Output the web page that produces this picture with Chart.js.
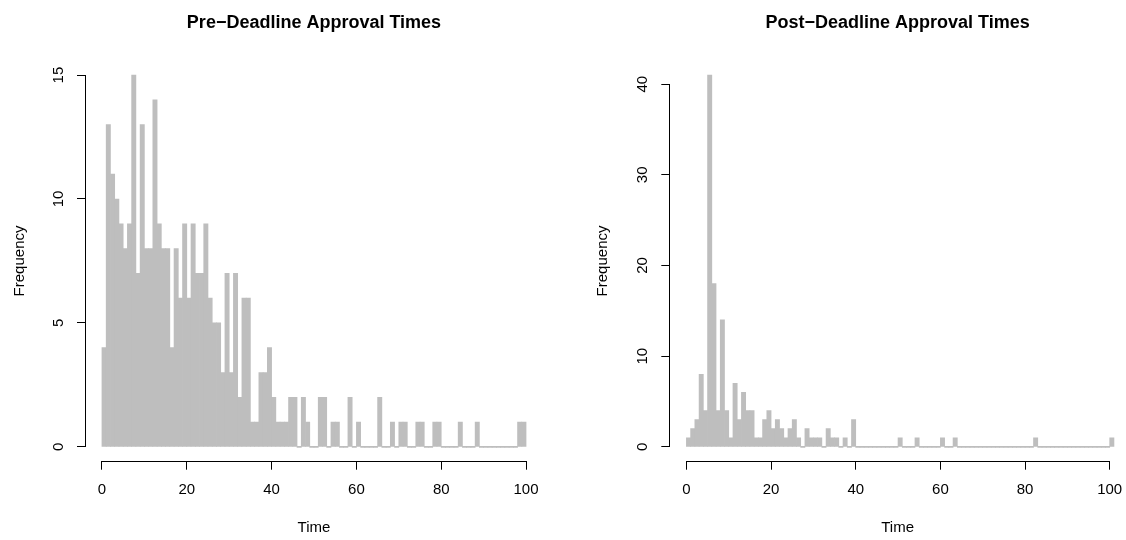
<!DOCTYPE html>
<html>
<head>
<meta charset="utf-8">
<script src="https://cdn.jsdelivr.net/npm/chart.js@4"></script>
<style>
html, body { margin: 0; padding: 0; background: #ffffff; overflow: hidden; width: 1126px; height: 540px; }
.box { position: absolute; top: 0; height: 540px; }
canvas { display: block; }
</style>
</head>
<body>
<div class="box" style="left:0px;"><canvas id="pre" width="563" height="540"></canvas></div>
<div class="box" style="left:563px;"><canvas id="post" width="583" height="540"></canvas></div>
<script>
// ---- data (histogram counts per 1-unit bin, starting at 0) ----
const binWidth = 1;
const preCounts = [
  4, 13, 11, 10, 9, 8, 9, 15, 7, 13,
  8, 8, 14, 9, 8, 8, 4, 8, 6, 9,
  6, 9, 7, 7, 9, 6, 5, 5, 3, 7,
  3, 7, 2, 6, 6, 1, 1, 3, 3, 4,
  2, 1, 1, 1, 2, 2, 0, 2, 1, 0,
  0, 2, 2, 0, 1, 1, 0, 0, 2, 0,
  1, 0, 0, 0, 0, 2, 0, 0, 1, 0,
  1, 1, 0, 0, 1, 1, 0, 0, 1, 1,
  0, 0, 0, 0, 1, 0, 0, 0, 1, 0,
  0, 0, 0, 0, 0, 0, 0, 0, 1, 1
];
const postCounts = [
  1, 2, 3, 8, 4, 41, 18, 4, 14, 4,
  1, 7, 3, 6, 4, 4, 1, 1, 3, 4,
  2, 3, 2, 1, 2, 3, 1, 0, 2, 1,
  1, 1, 0, 2, 1, 1, 0, 1, 0, 3,
  0, 0, 0, 0, 0, 0, 0, 0, 0, 0,
  1, 0, 0, 0, 1, 0, 0, 0, 0, 0,
  1, 0, 0, 1, 0, 0, 0, 0, 0, 0,
  0, 0, 0, 0, 0, 0, 0, 0, 0, 0,
  0, 0, 1, 0, 0, 0, 0, 0, 0, 0,
  0, 0, 0, 0, 0, 0, 0, 0, 0, 0,
  1
];
const xTicks = [0, 20, 40, 60, 80, 100];
const preYTicks = [0, 5, 10, 15];
const postYTicks = [0, 10, 20, 30, 40];
const preTitle = 'Pre\u2212Deadline Approval Times';
const postTitle = 'Post\u2212Deadline Approval Times';
const xLabel = 'Time';
const yLabel = 'Frequency';

// ---- style ----
const barColor = '#BEBEBE';
Chart.defaults.font.family = "'Liberation Sans', Arial, Helvetica, sans-serif";
Chart.defaults.color = '#000000';

const rAxes = {
  id: 'rAxes',
  afterDraw(chart) {
    const { ctx, chartArea, scales } = chart;
    const al = v => Math.round(v - 0.5) + 0.5;
    const xs = scales.x, ys = scales.y;
    const xt = xs.ticks, yt = ys.ticks;
    ctx.save();
    ctx.strokeStyle = '#000000';
    ctx.lineWidth = 1;
    ctx.lineCap = 'square';
    ctx.beginPath();
    const yb = al(chartArea.bottom);
    ctx.moveTo(al(xs.getPixelForValue(xt[0].value)), yb);
    ctx.lineTo(al(xs.getPixelForValue(xt[xt.length - 1].value)), yb);
    const xl = al(chartArea.left);
    ctx.moveTo(xl, al(ys.getPixelForValue(yt[0].value)));
    ctx.lineTo(xl, al(ys.getPixelForValue(yt[yt.length - 1].value)));
    ctx.stroke();
    ctx.restore();
  }
};

function makeHist(id, counts, yTicks, yMin, yMax, xMin, xMax, titleText, padRight, yTitlePad) {
  const points = counts.map((c, i) => ({ x: i * binWidth + binWidth / 2, y: c }));
  return new Chart(document.getElementById(id), {
    type: 'bar',
    data: {
      datasets: [{
        data: points,
        backgroundColor: barColor,
        borderWidth: 0,
        barPercentage: 1,
        categoryPercentage: 1,
        inflateAmount: 0.35,
        minBarLength: 1
      }]
    },
    options: {
      responsive: false,
      animation: false,
      devicePixelRatio: 1,
      layout: { padding: { left: 0, right: padRight, top: 0, bottom: 0 } },
      plugins: {
        legend: { display: false },
        tooltip: { enabled: false },
        title: {
          display: true,
          text: titleText,
          fullSize: false,
          color: '#000000',
          font: { size: 18, weight: 'bold' },
          padding: { top: 12.5, bottom: 26.1 }
        }
      },
      scales: {
        x: {
          type: 'linear',
          min: xMin,
          max: xMax,
          offset: false,
          afterBuildTicks: s => { s.ticks = xTicks.map(v => ({ value: v })); },
          grid: { offset: false, drawOnChartArea: false, drawTicks: true, tickLength: 8, color: '#000000', lineWidth: 1 },
          border: { display: false },
          ticks: { font: { size: 15 }, color: '#000000', padding: 11, maxRotation: 0, minRotation: 0, autoSkip: false },
          title: { display: true, text: xLabel, color: '#000000', font: { size: 15 }, padding: { top: 9.3, bottom: 3 } }
        },
        y: {
          type: 'linear',
          min: yMin,
          max: yMax,
          afterBuildTicks: s => { s.ticks = yTicks.map(v => ({ value: v })); },
          grid: { drawOnChartArea: false, drawTicks: true, tickLength: 8, color: '#000000', lineWidth: 1 },
          border: { display: false },
          ticks: { font: { size: 15 }, color: '#000000', padding: 10, minRotation: 90, maxRotation: 90, crossAlign: 'center', autoSkip: false },
          title: { display: true, text: yLabel, color: '#000000', font: { size: 15 }, padding: yTitlePad }
        }
      }
    },
    plugins: [rAxes]
  });
}

makeHist('pre', preCounts, preYTicks, -0.6, 15.6, -4, 104, preTitle, 20, { top: 11, bottom: 10 });
makeHist('post', postCounts, postYTicks, -1.64, 42.64, -4.04, 103.85, postTitle, 20, { top: 31, bottom: 11.3 });
</script>
</body>
</html>
